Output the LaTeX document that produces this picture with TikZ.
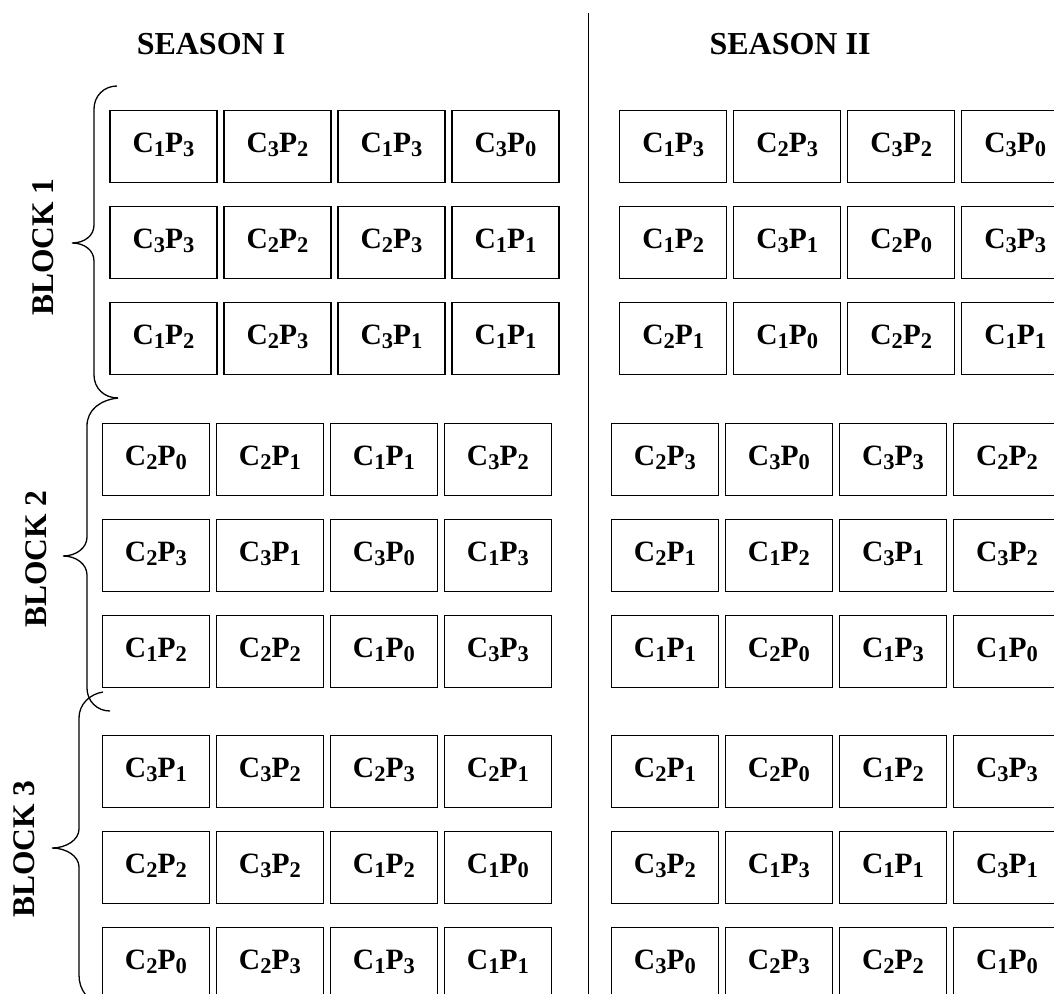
\documentclass[tikz,border=0pt]{standalone}
\usepackage{fontspec}
\setmainfont{Liberation Serif}
\tikzset{
  %% Plot cell of the field layout
  plotbox/.style={
    rectangle, draw=black, line width=1.4pt,
    minimum width=107pt, minimum height=72pt,
    inner sep=0pt, anchor=north west,
    text height=19pt, text depth=7pt,
    font=\fontsize{29.5}{31}\selectfont\bfseries
  },
  %% Season heading
  seasonlbl/.style={
    font=\fontsize{32}{34}\selectfont\bfseries,
    anchor=base, inner sep=0pt
  },
  %% Block label beside its brace
  blocklbl/.style={
    font=\fontsize{31.5}{33}\selectfont\bfseries,
    rotate=90, inner sep=0pt
  },
  %% Curly brace and divider
  bracepath/.style={draw=black, line width=1.3pt},
  divline/.style={draw=black, line width=1.3pt},
}

%% treatment label C_c P_p
\newcommand\lowidx[1]{\raisebox{-4pt}{\fontsize{22.5}{23}\selectfont #1}}
\newcommand\trt[2]{C\lowidx{#1}P\lowidx{#2}}

%% one field: name, left x, top y, rows of c/p pairs
\newcommand\drawfield[4]{%
  \foreach \row [count=\r] in {#4} {
    \foreach \c/\p [count=\k] in \row {
      \node[plotbox] (#1-\r-\k) at ({#2+114*(\k-1)}, {#3+96*(\r-1)})
           {\trt{\c}{\p}};
    }
  }%
}

\begin{document}
\begin{tikzpicture}[x=1pt, y=-1pt]
  \useasboundingbox (0,0) rectangle (1054,993);

  %% headings and divider
  \node[seasonlbl] (season1) at (211,54) {SEASON I};
  \node[seasonlbl] (season2) at (790,54) {SEASON II};
  \coordinate (divtop) at (588.5,13);
  \coordinate (divbot) at (588.5,995);
  \draw[divline] (divtop) -- (divbot);

  %% block 1
  \drawfield{b1s1}{109.3}{110}{{1/3,3/2,1/3,3/0},{3/3,2/2,2/3,1/1},{1/2,2/3,3/1,1/1}}
  \drawfield{b1s2}{619}{110}{{1/3,2/3,3/2,3/0},{1/2,3/1,2/0,3/3},{2/1,1/0,2/2,1/1}}

  %% block 2
  \drawfield{b2s1}{101.7}{422.5}{{2/0,2/1,1/1,3/2},{2/3,3/1,3/0,1/3},{1/2,2/2,1/0,3/3}}
  \drawfield{b2s2}{610.7}{422.5}{{2/3,3/0,3/3,2/2},{2/1,1/2,3/1,3/2},{1/1,2/0,1/3,1/0}}

  %% block 3
  \drawfield{b3s1}{101.7}{734.5}{{3/1,3/2,2/3,2/1},{2/2,3/2,1/2,1/0},{2/0,2/3,1/3,1/1}}
  \drawfield{b3s2}{610.7}{734.5}{{2/1,2/0,1/2,3/3},{3/2,1/3,1/1,3/1},{3/0,2/3,2/2,1/0}}

  %% braces
  \draw[bracepath] (117,86) .. controls (104,86) and (94,96) .. (94,109)
    -- (94,225) .. controls (94,236) and (84,243) .. (72,243)
    .. controls (84,243) and (94,250) .. (94,261)
    -- (94,375) .. controls (94,388) and (104,398) .. (118,398);
  \draw[bracepath] (118,398) .. controls (100,400) and (87,410) .. (87,426)
    -- (87,537) .. controls (87,548) and (76,556) .. (63,556)
    .. controls (76,556) and (87,564) .. (87,575)
    -- (87,688) .. controls (87,701) and (97,711) .. (110,711);
  \draw[bracepath] (103,692) .. controls (90,694) and (79,704) .. (79,718)
    -- (79,829) .. controls (79,840) and (66,848) .. (52,848)
    .. controls (66,848) and (79,856) .. (79,867)
    -- (79,975) .. controls (79,990) and (88,1002) .. (103,1004);

  \node[blocklbl] (blk1) at (43,247) {BLOCK 1};
  \node[blocklbl] (blk2) at (36,559) {BLOCK 2};
  \node[blocklbl] (blk3) at (24,849) {BLOCK 3};

\end{tikzpicture}
\end{document}
